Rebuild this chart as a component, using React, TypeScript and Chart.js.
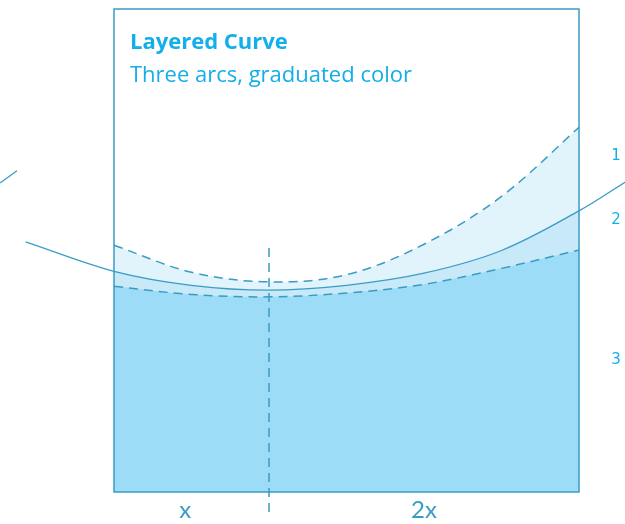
import React, { useEffect, useRef } from "react";
import { Chart, registerables } from "chart.js";

Chart.register(...registerables);

// ---- data (x: frame width = 3 units, y: frame height = 100 units)
const upperX = [0, 0.5, 1, 1.5, 2, 2.5, 3];
const upperArc = [51.1, 45.5, 43.5, 45.0, 51.3, 61.2, 75.5];

const middleX = [-0.57, 0, 0.5, 1, 1.5, 2, 2.5, 3, 3.3];
const middleArc = [51.8, 45.7, 42.8, 41.8, 42.8, 45.3, 50.0, 58.2, 64.2];

const lowerX = [0, 0.5, 1, 1.5, 2, 2.5, 3];
const lowerArc = [42.6, 40.9, 40.4, 41.2, 43.0, 46.3, 50.1];

const strayX = [-0.735, -0.626];
const strayArc = [64.0, 66.5];

const dividerX = [1, 1];
const dividerY = [50.5, -5.4];

const layerLabels = ["1", "2", "3"];
const layerLabelY = [69.6, 56.3, 27.3];
const widthLabels = ["x", "2x"];
const widthLabelX = [0.46, 2.0];

const titleText = "Layered Curve";
const subtitleText = "Three arcs, graduated color";

const LINE = "#3a9cc4";
const LIGHT = "#e1f3fb";
const MID = "#c7e9f8";
const DARK = "#9ddcf7";
const TEXT = "#14aeea";

const pts = (xs: number[], ys: number[]) => xs.map((x, i) => ({ x, y: ys[i] }));

export default function App() {
  const ref = useRef<HTMLCanvasElement | null>(null);

  useEffect(() => {
    if (!ref.current) return;
    const middleIn = pts(middleX, middleArc).filter((p) => p.x >= 0 && p.x <= 3);

    const decor = {
      id: "decor",
      afterDatasetsDraw(chart: any) {
        const { ctx, scales } = chart;
        const xs = scales.x;
        const ys = scales.y;
        ctx.save();
        // frame
        ctx.strokeStyle = LINE;
        ctx.lineWidth = 1.5;
        const l = xs.getPixelForValue(0);
        const r = xs.getPixelForValue(3);
        const t = ys.getPixelForValue(100);
        const b = ys.getPixelForValue(0);
        ctx.strokeRect(l, t, r - l, b - t);
        // title
        ctx.fillStyle = TEXT;
        ctx.textBaseline = "alphabetic";
        ctx.textAlign = "left";
        ctx.font = "bold 22px 'Open Sans'";
        ctx.fillText(titleText, l + 16, t + 40);
        ctx.font = "400 22px 'Open Sans'";
        ctx.fillText(subtitleText, l + 16, t + 73);
        // layer labels
        ctx.textAlign = "center";
        ctx.textBaseline = "middle";
        ctx.font = "15px 'DejaVu Sans'";
        layerLabels.forEach((s, i) => {
          ctx.fillText(s, r + 37, ys.getPixelForValue(layerLabelY[i]));
        });
        // width labels
        ctx.fillStyle = LINE;
        ctx.font = "400 24px 'Lato'";
        widthLabels.forEach((s, i) => {
          ctx.fillText(s, xs.getPixelForValue(widthLabelX[i]), b + 18);
        });
        ctx.restore();
      },
    };

    const chart = new Chart(ref.current, {
      type: "line",
      data: {
        datasets: [
          {
            data: pts(lowerX, lowerArc),
            borderColor: LINE,
            borderWidth: 1.5,
            borderDash: [9, 6],
            backgroundColor: DARK,
            fill: "origin",
            order: 1,
          },
          {
            data: middleIn,
            borderWidth: 0,
            borderColor: "rgba(0,0,0,0)",
            backgroundColor: MID,
            fill: "origin",
            order: 2,
          },
          {
            data: pts(upperX, upperArc),
            borderColor: LINE,
            borderWidth: 1.5,
            borderDash: [9, 6],
            backgroundColor: LIGHT,
            fill: "origin",
            order: 3,
          },
          {
            data: pts(middleX, middleArc),
            borderColor: LINE,
            borderWidth: 1.3,
            fill: false,
            order: 0,
          },
          {
            data: pts(strayX, strayArc),
            borderColor: LINE,
            borderWidth: 1.3,
            fill: false,
            order: 0,
            tension: 0,
          },
          {
            data: pts(dividerX, dividerY),
            borderColor: LINE,
            borderWidth: 1.5,
            borderDash: [9, 6],
            fill: false,
            order: 0,
            tension: 0,
          },
        ] as any,
      },
      options: {
        animation: false,
        responsive: false,
        maintainAspectRatio: false,
        layout: { padding: 0 },
        elements: {
          point: { radius: 0, hoverRadius: 0 },
          line: { tension: 0.35 },
        },
        plugins: { legend: { display: false }, tooltip: { enabled: false } },
        events: [],
        scales: {
          x: { type: "linear", display: false, min: -114 / 155, max: 511 / 155 },
          y: { type: "linear", display: false, min: -32 / 4.83, max: 100 + 9 / 4.83 },
        },
      },
      plugins: [decor],
    });
    return () => chart.destroy();
  }, []);

  return (
    <div style={{ position: "fixed", left: 0, top: 0, width: 625, height: 524, background: "#fff" }}>
      <canvas ref={ref} width={625} height={524} />
    </div>
  );
}
